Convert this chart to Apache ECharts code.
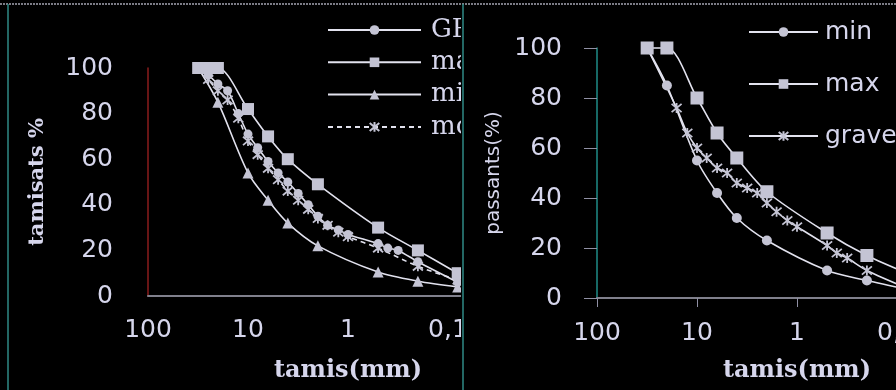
<!DOCTYPE html>
<html>
<head>
<meta charset="utf-8">
<script src="https://cdn.jsdelivr.net/npm/echarts@6/dist/echarts.min.js"></script>
<style>
  html, body { margin: 0; padding: 0; background: #000; }
  #wrap { position: relative; width: 896px; height: 390px; background: #000; overflow: hidden; }
  .panel { position: absolute; top: 0; height: 390px; overflow: hidden; }
  .inner { position: absolute; top: 0; left: 0; width: 600px; height: 390px; }
</style>
</head>
<body>
<div id="wrap">
  <div class="panel" style="left:0;width:461px"><div id="left" class="inner"></div></div>
  <div class="panel" style="left:462px;width:434px"><div id="right" class="inner"></div></div>
</div>
<script>
// tick labels (sieve size, mm, log scale, decimal comma)
const xTickValues = [100, 10, 1, 0.1, 0.01];
const xTickLabels = ['100', '10', '1', '0,1', '0,01'];

// left chart: tamisats %
const leftGrSieves = [31.5, 25, 20, 16, 12.5, 10, 8, 6.3, 5, 4, 3.15, 2.5, 2, 1.6, 1.25, 1, 0.5, 0.4, 0.315, 0.2, 0.08];
const leftGr = [100, 97, 93, 90, 80, 71, 65, 59, 54, 50, 45, 40, 35, 31, 29, 27, 23, 21, 20, 15, 6];
const leftMaxSieves = [31.5, 25, 20, 10, 6.3, 4, 2, 0.5, 0.2, 0.08];
const leftMax = [100, 100, 100, 82, 70, 60, 49, 30, 20, 10];
const leftMinSieves = [31.5, 20, 10, 6.3, 4, 2, 0.5, 0.2, 0.08];
const leftMin = [100, 85, 54, 42, 32, 22, 10.5, 6.5, 4];
const leftMoySieves = [31.5, 25, 20, 16, 12.5, 10, 8, 6.3, 5, 4, 3.15, 2.5, 2, 1.6, 1.25, 1, 0.5, 0.2, 0.08];
const leftMoy = [100, 95, 90, 86, 78, 68, 62, 56, 51, 46, 42, 38, 34, 31, 28, 26, 21, 13, 7];
const leftYTicks = [0, 20, 40, 60, 80, 100];

// right chart: passants(%)
const rightMinSieves = [31.5, 20, 10, 6.3, 4, 2, 0.5, 0.2, 0.08];
const rightMin = [100, 85, 55, 42, 32, 23, 11, 7, 3.5];
const rightMaxSieves = [31.5, 20, 10, 6.3, 4, 2, 0.5, 0.2, 0.08];
const rightMax = [100, 100, 80, 66, 56, 42.5, 26, 17, 10];
const rightGraveSieves = [31.5, 16, 12.5, 10, 8, 6.3, 5, 4, 3.15, 2.5, 2, 1.6, 1.25, 1, 0.5, 0.4, 0.315, 0.2, 0.08];
const rightGrave = [100, 76, 66, 60, 56, 52, 50, 46, 44, 42, 38, 34.5, 31, 28.5, 21, 18, 16, 11, 4];

const textColor = '#d6d6ec';
const lineColor = '#e2e2ee';
const markColor = '#c4c4d4';
const starPath = 'path://M0,0L10,10M10,0L0,10M5,-1L5,11';

function pairs(xs, ys) {
  return xs.map((x, i) => [x, ys[i]]);
}

function tickLabel(v) {
  let best = 0;
  xTickValues.forEach((t, i) => {
    if (Math.abs(Math.log10(t) - Math.log10(v)) < Math.abs(Math.log10(xTickValues[best]) - Math.log10(v))) best = i;
  });
  return xTickLabels[best];
}

function lineSeries(name, data, symbol, size, dashed) {
  return {
    name: name,
    type: 'line',
    smooth: 0.3,
    data: data,
    symbol: symbol,
    symbolSize: size,
    clip: false,
    lineStyle: { color: lineColor, width: 1.6, type: dashed ? [5, 4] : 'solid' },
    itemStyle: { color: markColor, borderColor: markColor, borderWidth: symbol === starPath ? 1.8 : 0 },
  };
}

function frame(leftX) {
  return [
    { type: 'line', shape: { x1: 0, y1: 4, x2: 600, y2: 4 }, style: { stroke: '#7c7c86', lineWidth: 2, lineDash: [2, 1] } },
    { type: 'line', shape: { x1: leftX, y1: 4, x2: leftX, y2: 390 }, style: { stroke: '#2f8a86', lineWidth: 1.5 } },
  ];
}

const leftChart = echarts.init(document.getElementById('left'));
leftChart.setOption({
  backgroundColor: '#000',
  animation: false,
  graphic: frame(8),
  grid: { left: 148, top: 68, width: 400, height: 228 },
  legend: {
    orient: 'vertical',
    left: 327,
    top: 17,
    padding: 0,
    itemWidth: 93,
    itemHeight: 12,
    itemGap: 6.3,
    textStyle: { fontFamily: 'DejaVu Serif', fontSize: 26, lineHeight: 26, color: textColor, padding: [0, 0, 0, 5] },
    data: ['GRH', 'max', 'min', 'moy'],
  },
  xAxis: {
    type: 'log',
    logBase: 10,
    min: 0.01,
    max: 100,
    inverse: true,
    name: 'tamis(mm)',
    nameLocation: 'middle',
    nameGap: 63,
    nameTextStyle: { fontFamily: 'DejaVu Serif', fontWeight: 'bold', fontSize: 24, color: textColor },
    axisLine: { lineStyle: { color: '#80808c', width: 2 } },
    axisTick: { show: false },
    splitLine: { show: false },
    axisLabel: { margin: 22, fontFamily: 'DejaVu Sans', fontSize: 25, color: textColor, formatter: tickLabel },
  },
  yAxis: {
    type: 'value',
    min: leftYTicks[0],
    max: leftYTicks[leftYTicks.length - 1],
    interval: 20,
    name: 'tamisats %',
    nameLocation: 'middle',
    nameGap: 100,
    nameTextStyle: { fontFamily: 'DejaVu Serif', fontWeight: 'bold', fontSize: 21, color: textColor },
    axisLine: { show: true, lineStyle: { color: '#8b1c1c', width: 1.5 } },
    axisTick: { show: false },
    splitLine: { show: false },
    axisLabel: { margin: 35, fontFamily: 'DejaVu Sans', fontSize: 25, color: textColor },
  },
  series: [
    lineSeries('GRH', pairs(leftGrSieves, leftGr), 'circle', 9, false),
    lineSeries('max', pairs(leftMaxSieves, leftMax), 'rect', 12, false),
    lineSeries('min', pairs(leftMinSieves, leftMin), 'triangle', 11, false),
    lineSeries('moy', pairs(leftMoySieves, leftMoy), starPath, 10, true),
  ],
});

const rightChart = echarts.init(document.getElementById('right'));
rightChart.setOption({
  backgroundColor: '#000',
  animation: false,
  graphic: frame(1),
  grid: { left: 135, top: 48, width: 400, height: 250 },
  legend: {
    orient: 'vertical',
    left: 286,
    top: 19,
    padding: 0,
    itemWidth: 69,
    itemHeight: 12,
    itemGap: 26,
    textStyle: { fontFamily: 'DejaVu Sans', fontSize: 25, lineHeight: 26, color: textColor, padding: [0, 0, 0, 2] },
    data: ['min', 'max', 'grave'],
  },
  xAxis: {
    type: 'log',
    logBase: 10,
    min: 0.01,
    max: 100,
    inverse: true,
    name: 'tamis(mm)',
    nameLocation: 'middle',
    nameGap: 61,
    nameTextStyle: { fontFamily: 'DejaVu Serif', fontWeight: 'bold', fontSize: 24, color: textColor },
    axisLine: { lineStyle: { color: '#80808c', width: 2 } },
    axisTick: { show: true, length: 9, lineStyle: { color: '#9090a4' } },
    splitLine: { show: false },
    axisLabel: { margin: 23, fontFamily: 'DejaVu Sans', fontSize: 25, color: textColor, formatter: tickLabel },
  },
  yAxis: {
    type: 'value',
    min: 0,
    max: 100,
    interval: 20,
    name: 'passants(%)',
    nameLocation: 'middle',
    nameGap: 86,
    nameTextStyle: { fontFamily: 'DejaVu Sans', fontSize: 20, color: textColor },
    axisLine: { show: true, lineStyle: { color: '#1f8c88', width: 1.5 } },
    axisTick: { show: true, length: 13, lineStyle: { color: '#9090a4' } },
    splitLine: { show: false },
    axisLabel: { margin: 35, fontFamily: 'DejaVu Sans', fontSize: 25, color: textColor },
  },
  series: [
    lineSeries('min', pairs(rightMinSieves, rightMin), 'circle', 10, false),
    lineSeries('max', pairs(rightMaxSieves, rightMax), 'rect', 13, false),
    lineSeries('grave', pairs(rightGraveSieves, rightGrave), starPath, 10, false),
  ],
});
</script>
</body>
</html>
